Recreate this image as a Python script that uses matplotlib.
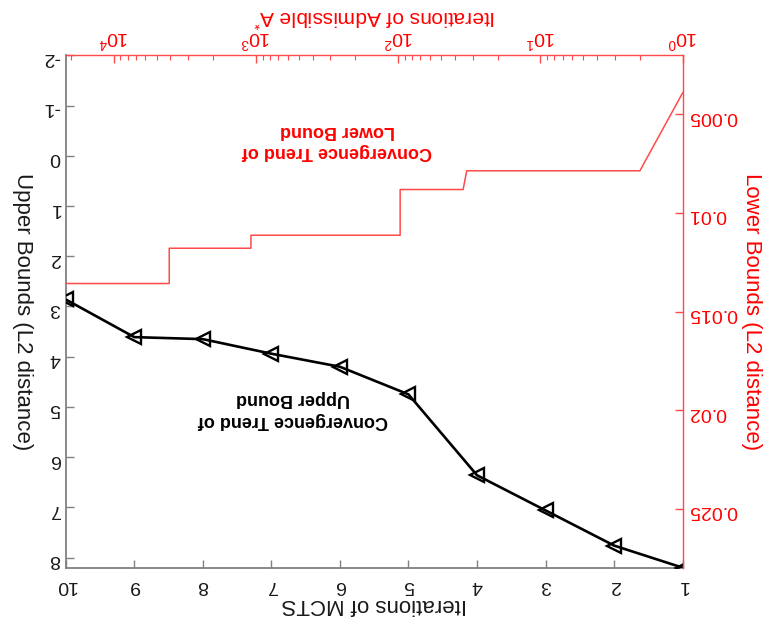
import matplotlib
matplotlib.use("Agg")
import matplotlib.pyplot as plt
from matplotlib.ticker import FixedLocator, FixedFormatter, LogLocator, NullFormatter

plt.rcParams["font.family"] = ["Liberation Sans", "DejaVu Sans"]
plt.rcParams["axes.unicode_minus"] = False
plt.rcParams["mathtext.fontset"] = "custom"
plt.rcParams["mathtext.rm"] = "Liberation Sans"
plt.rcParams["mathtext.it"] = "Liberation Sans:italic"
plt.rcParams["mathtext.bf"] = "Liberation Sans:bold"

# Upper bound (L2 distance) after each MCTS iteration
mcts_iters = [1, 2, 3, 4, 5, 6, 7, 8, 9, 10]
upper_bounds = [8.2, 7.76, 7.06, 6.36, 4.75, 4.20, 3.94, 3.65, 3.61, 2.86]
ub_ticks = [-2, -1, 0, 1, 2, 3, 4, 5, 6, 7, 8]

# Lower bound (L2 distance) along the admissible A* search
astar_iters = [1, 2, 33, 35, 97, 97, 1086, 1086, 4077, 4077, 21800]
lower_bounds = [0.0039, 0.00786, 0.00786, 0.00881, 0.00881, 0.01113,
                0.01113, 0.01179, 0.01179, 0.01358, 0.01358]
lb_ticks = [0.005, 0.01, 0.015, 0.02, 0.025]
lb_tick_labels = ["0.005", "0.01", "0.015", "0.02", "0.025"]

RED = "#ff0000"
RED_LINE = "#ff4a4a"
GRAY = "#808080"
DARK = "#1a1a1a"

fig = plt.figure(figsize=(7.67, 6.28), dpi=100)
rect = [65.7 / 767, 1 - 567.7 / 628, 617 / 767, 512.4 / 628]

# ---- upper bound axes (MCTS) ----
ax = fig.add_axes(rect)
ax.plot(mcts_iters, upper_bounds, color="black", lw=1.9, marker="<",
        markersize=10, mfc="none", mec="black", mew=1.7, zorder=3)
ax.set_xlim(10, 1)
ax.set_ylim(8.2, -2)
ax.set_xticks(mcts_iters)
ax.set_yticks(ub_ticks)
for side in ("top", "right"):
    ax.spines[side].set_visible(False)
for side in ("left", "bottom"):
    ax.spines[side].set_color(GRAY)
    ax.spines[side].set_linewidth(1.3)
ax.tick_params(axis="both", direction="in", length=6, width=1, color=GRAY,
               labelsize=14, labelcolor=DARK, labelrotation=180)
ax.tick_params(axis="x", pad=7)
ax.tick_params(axis="y", pad=4)
ax.set_xlabel("Iterations of MCTS", fontsize=16, color=DARK, rotation=180,
              labelpad=0)
ax.set_ylabel("Upper Bounds (L2 distance)", fontsize=16, color=DARK,
              rotation=270, va="top", labelpad=7)
ax.text(0.368, 0.309, "Convergence Trend of\nUpper Bound", transform=ax.transAxes,
        rotation=180, ha="center", va="center", multialignment="center",
        fontsize=13, fontweight="bold", color="black", linespacing=1.35)

# ---- lower bound axes (A*) ----
ax2 = fig.add_axes(rect, facecolor="none")
ax2.plot(astar_iters, lower_bounds, color=RED_LINE, lw=1.1)
ax2.set_xscale("log")
ax2.set_xlim(max(astar_iters), 1)
ax2.set_ylim(0.028, 0.002)
ax2.xaxis.set_major_locator(LogLocator(base=10, numticks=10))
ax2.xaxis.set_minor_locator(LogLocator(base=10, subs=range(2, 10), numticks=20))
ax2.xaxis.set_minor_formatter(NullFormatter())
ax2.yaxis.set_major_locator(FixedLocator(lb_ticks))
ax2.yaxis.set_major_formatter(FixedFormatter(lb_tick_labels))
for side in ("left", "bottom"):
    ax2.spines[side].set_visible(False)
for side in ("top", "right"):
    ax2.spines[side].set_color(RED_LINE)
    ax2.spines[side].set_linewidth(1.0)
ax2.xaxis.tick_top()
ax2.yaxis.tick_right()
ax2.tick_params(axis="both", which="both", direction="in", color=RED_LINE,
                labelcolor=RED, labelsize=14, labelrotation=180)
ax2.tick_params(axis="both", which="major", length=6, width=1)
ax2.tick_params(axis="x", which="minor", length=3.5, width=0.8)
ax2.tick_params(axis="x", pad=4)
ax2.tick_params(axis="y", pad=4)
ax2.xaxis.set_label_position("top")
ax2.yaxis.set_label_position("right")
ax2.set_xlabel("Iterations of Admissible A$^{*}$", fontsize=15, color=RED,
               rotation=180, va="bottom", labelpad=0)
ax2.set_ylabel("Lower Bounds (L2 distance)", fontsize=16, color=RED,
               rotation=270, va="bottom", labelpad=3)
ax2.text(0.44, 0.8327, "Convergence Trend of\nLower Bound", transform=ax2.transAxes,
         rotation=180, ha="center", va="center", multialignment="center",
         fontsize=13, fontweight="bold", color=RED, linespacing=1.35)

fig.savefig("out.png", dpi=100)
